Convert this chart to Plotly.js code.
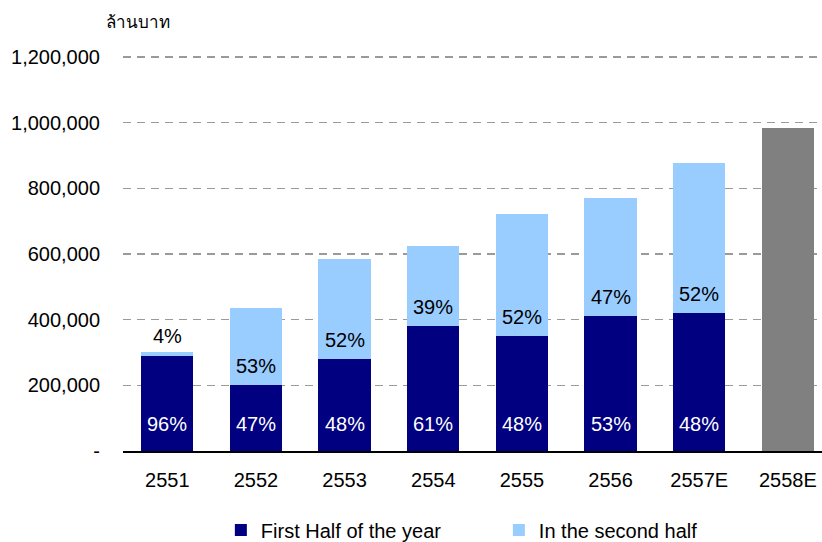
<!DOCTYPE html>
<html>
<head>
<meta charset="utf-8">
<script src="https://cdn.plot.ly/plotly-3.0.1.min.js"></script>
<style>html,body{margin:0;padding:0;background:#fff;}#chart{width:822px;height:542px;}</style>
</head>
<body>
<div id="chart"></div>
<script>
const years = ['2551','2552','2553','2554','2555','2556','2557E','2558E'];
const firstHalf = [289000, 201000, 280000, 380000, 350000, 411000, 420000, null];
const secondHalf = [12000, 234000, 304000, 244000, 371000, 359000, 457000, null];
const totalEstimate = [null, null, null, null, null, null, null, 983000];
const pctFirst = ['96%','47%','48%','61%','48%','53%','48%'];
const pctSecond = ['4%','53%','52%','39%','52%','47%','52%'];
const yTickVals = [0, 200000, 400000, 600000, 800000, 1000000, 1200000];
const yTickText = ['-', '200,000', '400,000', '600,000', '800,000', '1,000,000', '1,200,000'];
const yUnit = 'ล้านบาท';

const FONT = 'Liberation Sans, Arial, sans-serif';
const PLOT_TOP = 50, PLOT_BOTTOM = 451, PLOT_H = PLOT_BOTTOM - PLOT_TOP;

const traces = [
  {type:'bar', name:'First Half of the year', x:years, y:firstHalf, marker:{color:'#000080'}, hoverinfo:'skip'},
  {type:'bar', name:'In the second half', x:years, y:secondHalf, marker:{color:'#99CCFF'}, hoverinfo:'skip'},
  {type:'bar', name:'Estimate', x:years, y:totalEstimate, marker:{color:'#808080'}, showlegend:false, hoverinfo:'skip'}
];

const annotations = [];
pctFirst.forEach((t, i) => {
  annotations.push({x:i, y:0, xref:'x', yref:'y', text:t, showarrow:false,
    yanchor:'bottom', yshift:14, font:{family:FONT, size:20, color:'#ffffff'}});
});
pctSecond.forEach((t, i) => {
  const small = secondHalf[i] < 40000;
  annotations.push({x:i, y: small ? firstHalf[i] + secondHalf[i] : firstHalf[i], xref:'x', yref:'y', text:t, showarrow:false,
    yanchor:'bottom', yshift: small ? 3 : 6, font:{family:FONT, size:20, color:'#000000'}});
});
annotations.push({xref:'paper', yref:'paper', x:(138-123)/699, y:(PLOT_BOTTOM-22)/PLOT_H, xanchor:'center', yanchor:'middle',
  text:yUnit, showarrow:false, font:{family:'Noto Sans, DejaVu Sans, sans-serif', size:17, color:'#000'}});

const layout = {
  width:822, height:542,
  margin:{l:123, r:0, t:PLOT_TOP, b:542-PLOT_BOTTOM, pad:0, autoexpand:false},
  paper_bgcolor:'#ffffff', plot_bgcolor:'#ffffff',
  barmode:'stack', bargap:0.41,
  font:{family:FONT, size:20, color:'#000'},
  xaxis:{type:'category', range:[-0.5, 7.385], showgrid:false, showline:true, linecolor:'#000', linewidth:1.5,
    ticks:'', ticklabelstandoff:10, tickfont:{family:FONT, size:20, color:'#000'}, zeroline:false, fixedrange:true},
  yaxis:{range:[0, 1221400], tickvals:yTickVals, ticktext:yTickText, showgrid:true, gridcolor:'#9a9a9a', gridwidth:1.3,
    griddash:'8px,6px', zeroline:false, showline:false, ticks:'', ticklabelstandoff:22,
    tickfont:{family:FONT, size:20, color:'#000'}},
  legend:{orientation:'h', x:0.14, xanchor:'left', y:(PLOT_BOTTOM-530)/PLOT_H, yanchor:'middle', entrywidth:233, entrywidthmode:'pixels',
    font:{family:FONT, size:20, color:'#000'}, bgcolor:'rgba(0,0,0,0)', traceorder:'normal'},
  annotations:annotations,
  showlegend:true
};

Plotly.newPlot('chart', traces, layout, {displayModeBar:false, staticPlot:true});
</script>
</body>
</html>
